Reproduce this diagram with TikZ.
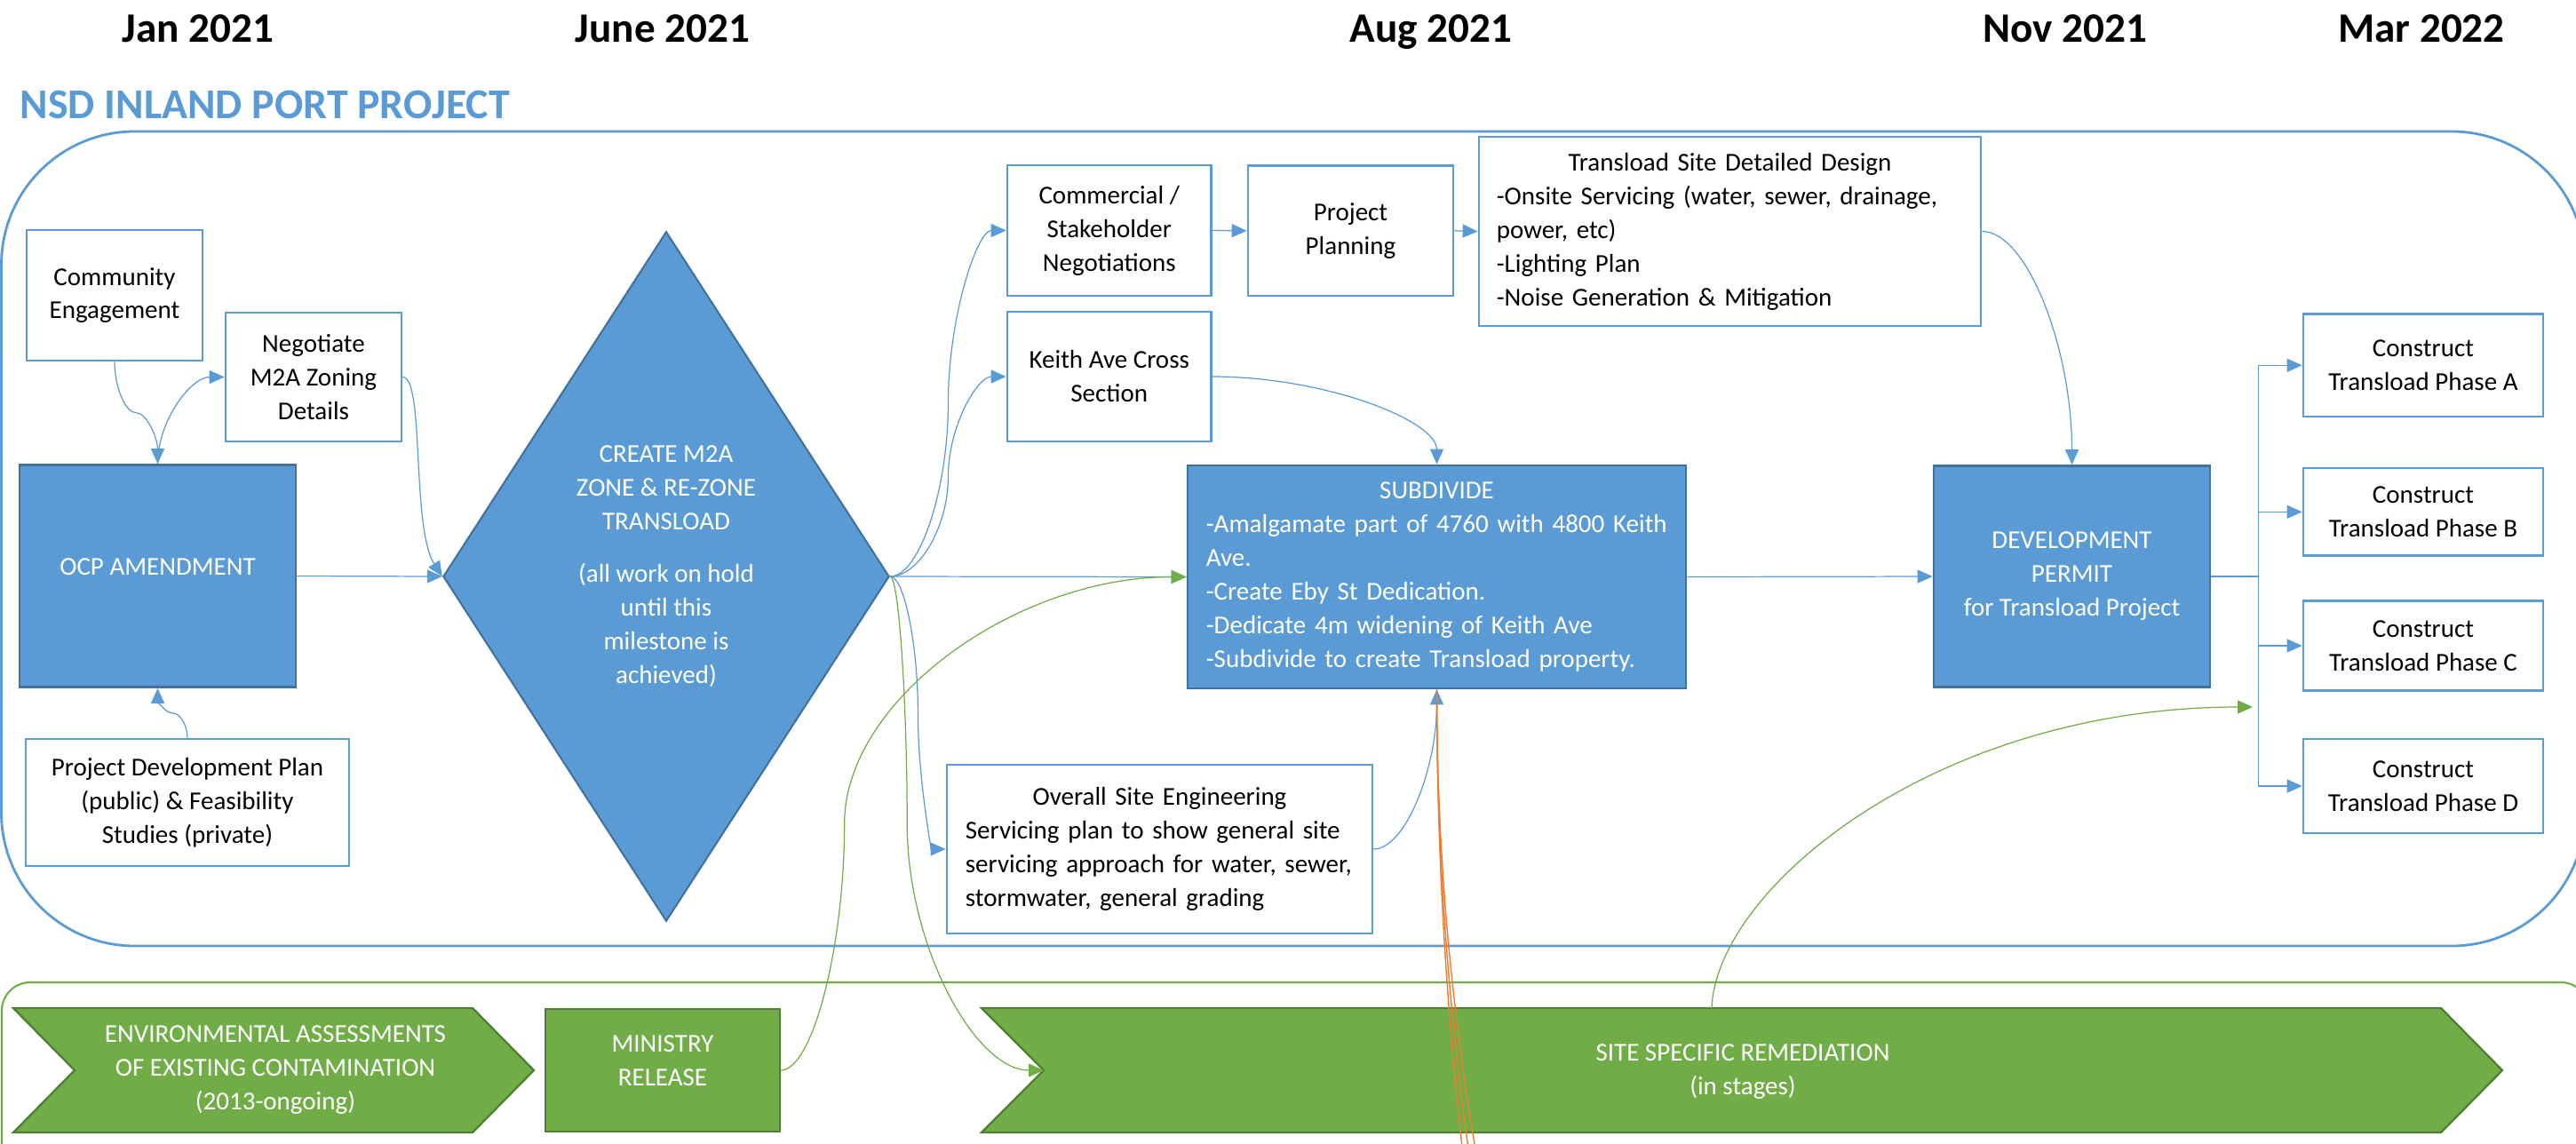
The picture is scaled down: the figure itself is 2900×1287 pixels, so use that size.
\documentclass[tikz,border=0pt]{standalone}
\usepackage{fontspec}
\setmainfont{Carlito}
\usetikzlibrary{arrows.meta,shapes.geometric,calc}
\definecolor{blu}{HTML}{5B9BD5}
\definecolor{dblu}{HTML}{41719C}
\definecolor{grn}{HTML}{70AD47}
\definecolor{dgrn}{HTML}{507E32}
\definecolor{org}{HTML}{ED7D31}
\begin{document}
\begin{tikzpicture}[x=0.01cm, y=-0.01cm,
 body/.style={font=\fontsize{8.25}{10.8}\selectfont},
 wbox/.style={draw=blu, line width=0.7pt, fill=white, inner sep=0pt, align=center, body},
 bbox/.style={draw=dblu, line width=0.7pt, fill=blu, text=white, inner sep=0pt, align=center, body},
 gbox/.style={draw=dgrn, line width=0.65pt, fill=grn, inner sep=0pt},
 chev/.style={draw=dgrn, line width=0.65pt, fill=grn},
 wtext/.style={text=white, align=center, body, inner sep=0pt},
 hdr/.style={font=\fontsize{13.4}{16}\selectfont\bfseries, inner sep=0pt, anchor=base},
 arrowhd/.style={-{Triangle[length=0.17cm,width=0.15cm]}},
 conn/.style={draw=blu, line width=0.35pt, arrowhd},
 gconn/.style={draw=grn, line width=0.35pt, arrowhd},
 oconn/.style={draw=org, line width=0.4pt},
 hcurve/.style={to path={let \p1=(\tikztostart), \p2=(\tikztotarget), \n1={\x1+#1*(\x2-\x1)} in
   .. controls ({(\x1+\n1*1pt)/2},\y1) and ({\n1*1pt},{(3*\y1+\y2)/4}) .. ({\n1*1pt},{(\y1+\y2)/2})
   .. controls ({\n1*1pt},{(\y1+3*\y2)/4}) and ({(\n1*1pt+\x2)/2},\y2) .. (\tikztotarget) \tikztonodes}},
 hcurve/.default=0.5,
 vcurve/.style={to path={let \p1=(\tikztostart), \p2=(\tikztotarget), \n1={\y1+#1*(\y2-\y1)} in
   .. controls (\x1,{(\y1+\n1*1pt)/2}) and ({(3*\x1+\x2)/4},{\n1*1pt}) .. ({(\x1+\x2)/2},{\n1*1pt})
   .. controls ({(\x1+3*\x2)/4},{\n1*1pt}) and (\x2,{(\n1*1pt+\y2)/2}) .. (\tikztotarget) \tikztonodes}},
 vcurve/.default=0.5,
 hvcurve/.style={to path={let \p1=(\tikztostart), \p2=(\tikztotarget) in
   .. controls ({(\x1+\x2)/2},\y1) and (\x2,{(\y1+\y2)/2}) .. (\tikztotarget) \tikztonodes}},
 vhcurve/.style={to path={let \p1=(\tikztostart), \p2=(\tikztotarget) in
   .. controls (\x1,{(\y1+\y2)/2}) and ({(\x1+\x2)/2},\y2) .. (\tikztotarget) \tikztonodes}},
]
\useasboundingbox (0,0) rectangle (2900,1287);
\clip (0,0) rectangle (2900,1287);

% frames
\draw[blu, line width=0.8pt, rounded corners=1.5cm] (1.5,148) rectangle (2910,1065);
\draw[grn, line width=0.6pt, rounded corners=0.32cm] (2,1106) rectangle (2915,1400);

% headers
\node[hdr] (hjan) at (223,47) {Jan 2021};
\node[hdr] (hjun) at (746,47) {June 2021};
\node[hdr] (haug) at (1611,47) {Aug 2021};
\node[hdr] (hnov) at (2325,47) {Nov 2021};
\node[hdr] (hmar) at (2726,47) {Mar 2022};
\node[font=\fontsize{13.6}{16}\selectfont\bfseries, text=blu, anchor=base west, inner sep=0pt] (title) at (22,133) {NSD INLAND PORT PROJECT};

% blue section nodes
\node[wbox, minimum width=1.98cm, minimum height=1.47cm] (ce) at (129,332.5) {Community\\Engagement};
\node[wbox, minimum width=1.98cm, minimum height=1.45cm] (neg) at (353,424.5) {Negotiate\\M2A Zoning\\Details};
\node[bbox, minimum width=3.11cm, minimum height=2.50cm] (ocp) at (177.5,648.5) {};
\node[wtext] (ocpt) at (177.5,638) {OCP AMENDMENT};
\node[wbox, minimum width=3.64cm, minimum height=1.43cm] (pdp) at (211,903.5) {Project Development Plan\\(public) \& Feasibility\\Studies (private)};

\node[diamond, draw=dblu, fill=blu, line width=0.6pt, minimum width=5.02cm, minimum height=7.76cm, inner sep=0pt] (cz) at (750,649) {};
\node[wtext] (czt) at (750,638) {CREATE M2A\\ZONE \& RE-ZONE\\TRANSLOAD\\[6pt](all work on hold\\until this\\milestone is\\achieved)};

\node[wbox, minimum width=2.295cm, minimum height=1.47cm] (com) at (1248.75,259.5) {Commercial /\\Stakeholder\\Negotiations};
\node[wbox, minimum width=2.31cm, minimum height=1.465cm] (pp) at (1520.5,259.8) {Project\\Planning};
\node[wbox, minimum width=5.65cm, minimum height=2.13cm, text width=5.25cm, align=left] (tsd) at (1947.5,260.5)
 {{\centering Transload Site Detailed Design\par}-Onsite Servicing (water, sewer, drainage,\\power, etc)\\-Lighting Plan\\-Noise Generation \& Mitigation};
\node[wbox, minimum width=2.295cm, minimum height=1.46cm] (kac) at (1248.75,424) {Keith Ave Cross\\Section};
\node[bbox, minimum width=5.61cm, minimum height=2.51cm, text width=5.19cm, align=left] (sub) at (1617.5,649.5)
 {{\centering SUBDIVIDE\par}-Amalgamate part of 4760 with 4800 Keith\\Ave.\\-Create Eby St Dedication.\\-Dedicate 4m widening of Keith Ave\\-Subdivide to create Transload property.};
\node[wbox, minimum width=4.79cm, minimum height=1.90cm, text width=4.37cm, align=left] (ose) at (1305.5,956)
 {{\centering Overall Site Engineering\par}Servicing plan to show general site\\servicing approach for water, sewer,\\stormwater, general grading};
\node[bbox, minimum width=3.11cm, minimum height=2.49cm] (dp) at (2332.5,649) {DEVELOPMENT\\PERMIT\\for Transload Project};

\node[wbox, minimum width=2.70cm, minimum height=1.154cm] (ca) at (2728,411.3) {Construct\\Transload Phase A};
\node[wbox, minimum width=2.70cm, minimum height=0.985cm] (cb) at (2728,576.3) {Construct\\Transload Phase B};
\node[wbox, minimum width=2.70cm, minimum height=1.01cm] (cc) at (2728,727) {Construct\\Transload Phase C};
\node[wbox, minimum width=2.70cm, minimum height=1.06cm] (cd) at (2728,885) {Construct\\Transload Phase D};

% green section
\draw[chev] (15,1135) -- (532,1135) -- (601,1205) -- (532,1275) -- (15,1275) -- (84,1205) -- cycle;
\node[wtext] (evt) at (310,1205) {ENVIRONMENTAL ASSESSMENTS\\OF EXISTING CONTAMINATION\\(2013-ongoing)};
\node[gbox, minimum width=2.635cm, minimum height=1.38cm] (min) at (746,1205) {};
\node[wtext] (mint) at (746,1194) {MINISTRY\\RELEASE};
\draw[chev] (1105,1135) -- (2748,1135) -- (2817,1205) -- (2748,1275) -- (1105,1275) -- (1175,1205) -- cycle;
\node[wtext] (ssrt) at (1962,1206.5) {SITE SPECIFIC REMEDIATION\\(in stages)};
\coordinate (ssrn) at (1175,1205);
\coordinate (ssrtop) at (1927,1135);
\coordinate (brk) at (2536,796);
\coordinate (o1) at (1647,1300);
\coordinate (o2) at (1654,1300);
\coordinate (o3) at (1662,1300);

% blue connectors
\draw[conn] (ce.south) to[vcurve] (ocp.north);
\draw[conn] (ocp.north) to[vhcurve] (neg.west);
\draw[conn] (pdp.north) to[vcurve] (ocp.south);
\draw[conn] (ocp.east) -- (cz.west);
\draw[conn] (neg.east) .. controls +(25,0) and +(-35,-55) .. (cz.west);
\draw[conn] (cz.east) to[hcurve] (com.west);
\draw[conn] (cz.east) to[hcurve] (kac.west);
\draw[conn] (cz.east) -- (sub.west);
\draw[conn] (cz.east) to[hcurve] (ose.west);
\draw[conn] (ose.east) to[hvcurve] (sub.south);
\draw[conn] (kac.east) to[hvcurve] (sub.north);
\draw[conn] (com.east) -- (pp.west);
\draw[conn] (pp.east) -- (tsd.west);
\draw[conn] (tsd.east) to[hvcurve] (dp.north);
\draw[conn] (sub.east) -- (dp.west);
\draw[conn] (dp.east) -- ++(53,0) |- (ca.west);
\draw[conn] (dp.east) -- ++(53,0) |- (cb.west);
\draw[conn] (dp.east) -- ++(53,0) |- (cc.west);
\draw[conn] (dp.east) -- ++(53,0) |- (cd.west);

% green connectors
\draw[gconn] (min.east) to[hcurve=0.157] (sub.west);
\draw[gconn] (cz.east) to[hcurve=0.11] (ssrn);
\draw[gconn] (ssrtop) .. controls +(5,-135) and +(-356,0) .. (brk);

% orange lines
\draw[oconn] (sub.south) .. controls +(0,175) and +(-20,-175) .. (o1);
\draw[oconn] (sub.south) .. controls +(0,175) and +(-25,-175) .. (o2);
\draw[oconn] (sub.south) .. controls +(0,175) and +(-30,-175) .. (o3);
\end{tikzpicture}
\end{document}
